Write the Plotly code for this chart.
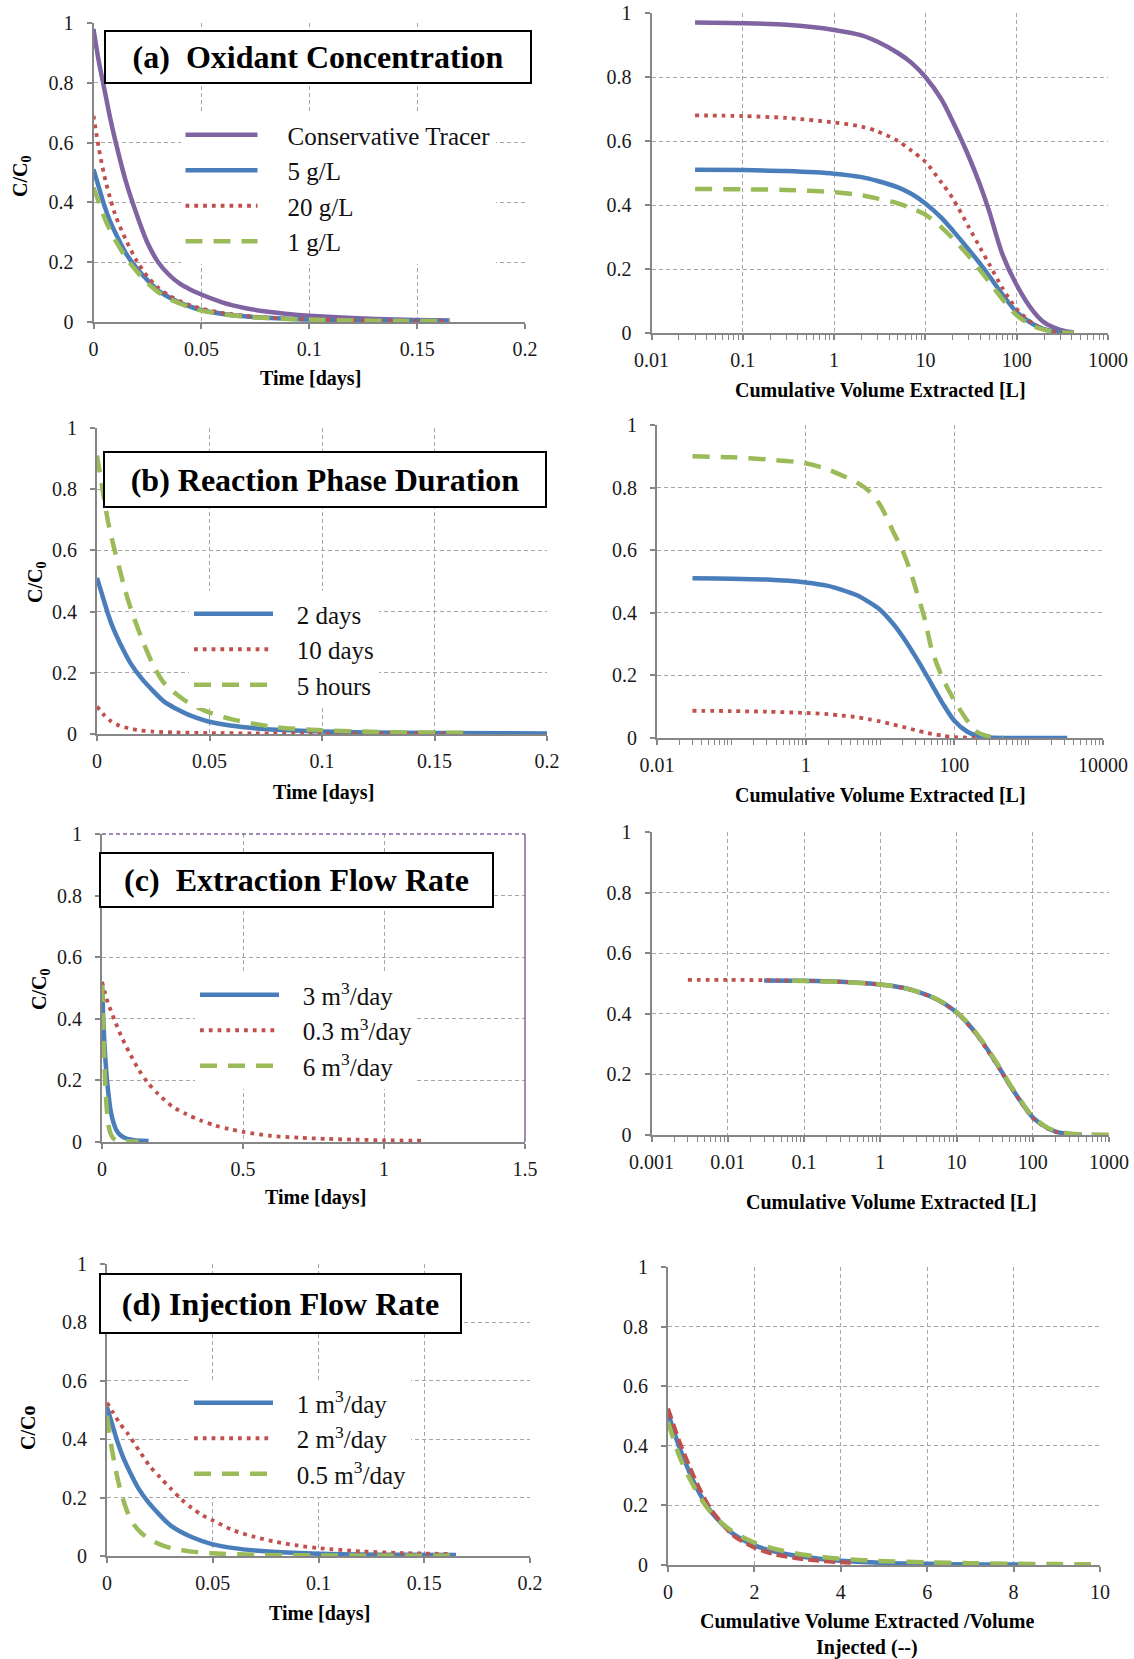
import plotly.graph_objects as go

W, H = 1134, 1659
FONT = "Liberation Serif"
PURPLE = "#8064A2"
BLUE = "#4A7EBB"
RED = "#C0504D"
GREEN = "#9BBB59"
AXIS = "#868686"
GRID = "#A6A6A6"

# ---------------- data ----------------
# (a) Oxidant concentration - time
a_time = [0, 0.0025, 0.005, 0.0075, 0.01, 0.015, 0.02, 0.025, 0.03, 0.035, 0.04, 0.045, 0.05, 0.06, 0.07, 0.08, 0.09, 0.1, 0.12, 0.14, 0.165]
a_tracer = [0.98, 0.87, 0.78, 0.69, 0.61, 0.47, 0.36, 0.265, 0.2, 0.158, 0.128, 0.108, 0.092, 0.065, 0.047, 0.035, 0.027, 0.021, 0.013, 0.008, 0.005]
a_5gL = [0.51, 0.45, 0.39, 0.34, 0.30, 0.23, 0.18, 0.14, 0.105, 0.083, 0.065, 0.051, 0.04, 0.027, 0.019, 0.014, 0.011, 0.008, 0.005, 0.004, 0.003]
a_20gL = [0.69, 0.58, 0.49, 0.42, 0.36, 0.275, 0.205, 0.152, 0.115, 0.089, 0.07, 0.056, 0.045, 0.03, 0.021, 0.015, 0.011, 0.009, 0.006, 0.004, 0.003]
a_1gL = [0.45, 0.40, 0.35, 0.31, 0.275, 0.215, 0.17, 0.13, 0.1, 0.078, 0.062, 0.048, 0.038, 0.026, 0.018, 0.013, 0.01, 0.008, 0.005, 0.004, 0.003]
# (a) volume
a_vol = [0.03, 0.1, 0.3, 1, 2, 3, 5, 7, 10, 15, 20, 30, 40, 50, 70, 100, 150, 200, 300, 420]
a_vol_tracer = [0.97, 0.968, 0.963, 0.947, 0.93, 0.91, 0.875, 0.845, 0.80, 0.73, 0.66, 0.55, 0.46, 0.38, 0.245, 0.15, 0.07, 0.033, 0.01, 0.002]
a_vol_5gL = [0.51, 0.509, 0.506, 0.498, 0.487, 0.475, 0.455, 0.435, 0.405, 0.36, 0.32, 0.26, 0.215, 0.178, 0.12, 0.065, 0.028, 0.012, 0.003, 0.001]
a_vol_20gL = [0.68, 0.678, 0.672, 0.658, 0.645, 0.63, 0.60, 0.57, 0.535, 0.47, 0.42, 0.33, 0.265, 0.215, 0.14, 0.075, 0.03, 0.012, 0.003, 0.001]
a_vol_1gL = [0.45, 0.449, 0.447, 0.44, 0.43, 0.42, 0.405, 0.39, 0.37, 0.33, 0.295, 0.24, 0.195, 0.16, 0.105, 0.055, 0.022, 0.01, 0.002, 0.001]

# (b) Reaction phase duration - time
b_time = [0, 0.0025, 0.005, 0.0075, 0.01, 0.015, 0.02, 0.025, 0.03, 0.035, 0.04, 0.045, 0.05, 0.06, 0.07, 0.08, 0.1, 0.12, 0.15, 0.2]
b_2days = [0.51, 0.45, 0.39, 0.34, 0.30, 0.23, 0.18, 0.14, 0.105, 0.083, 0.065, 0.051, 0.04, 0.027, 0.019, 0.014, 0.008, 0.005, 0.003, 0.002]
b_10days_t = [0, 0.003, 0.006, 0.01, 0.014, 0.018, 0.025, 0.035, 0.05, 0.07, 0.1, 0.13, 0.163]
b_10days = [0.09, 0.063, 0.043, 0.027, 0.019, 0.013, 0.008, 0.005, 0.003, 0.002, 0.001, 0.001, 0.001]
b_5h_t = [0, 0.002, 0.005, 0.0075, 0.01, 0.0125, 0.015, 0.02, 0.025, 0.03, 0.04, 0.05, 0.06, 0.07, 0.08, 0.1, 0.13, 0.163]
b_5h = [0.91, 0.82, 0.69, 0.61, 0.54, 0.47, 0.41, 0.31, 0.225, 0.165, 0.105, 0.07, 0.048, 0.033, 0.022, 0.012, 0.006, 0.004]
# (b) volume
b_vol_2days_x = [0.03, 0.1, 0.3, 1, 2, 3, 5, 7, 10, 15, 20, 30, 40, 50, 70, 100, 150, 200, 300, 1000, 3300]
b_vol_2days = [0.51, 0.509, 0.506, 0.497, 0.486, 0.474, 0.455, 0.435, 0.41, 0.365, 0.325, 0.26, 0.21, 0.17, 0.11, 0.055, 0.02, 0.008, 0.002, 0.0, 0.0]
b_vol_10days_x = [0.03, 0.1, 0.3, 1, 2, 3, 5, 7, 10, 15, 20, 30, 40, 50, 70, 100, 150, 200]
b_vol_10days = [0.087, 0.086, 0.084, 0.08, 0.076, 0.072, 0.066, 0.06, 0.053, 0.043, 0.036, 0.025, 0.018, 0.013, 0.007, 0.003, 0.001, 0.0]
b_vol_5h_x = [0.03, 0.1, 0.3, 1, 2, 3, 5, 7, 10, 15, 20, 25, 30, 40, 50, 70, 100, 150, 200, 300, 450]
b_vol_5h = [0.90, 0.897, 0.89, 0.878, 0.858, 0.84, 0.815, 0.79, 0.745, 0.66, 0.60, 0.54, 0.48, 0.38, 0.28, 0.19, 0.12, 0.055, 0.02, 0.005, 0.002]

# (c) Extraction flow rate - time
c_3_t = [0, 0.0025, 0.005, 0.0075, 0.01, 0.015, 0.02, 0.025, 0.03, 0.04, 0.05, 0.06, 0.07, 0.08, 0.1, 0.12, 0.14, 0.165]
c_3 = [0.51, 0.45, 0.39, 0.34, 0.30, 0.23, 0.18, 0.14, 0.105, 0.065, 0.04, 0.027, 0.019, 0.014, 0.008, 0.005, 0.004, 0.003]
c_03_t = [0, 0.02, 0.045, 0.07, 0.1, 0.13, 0.16, 0.2, 0.25, 0.3, 0.35, 0.4, 0.45, 0.5, 0.6, 0.7, 0.8, 0.9, 1.0, 1.14]
c_03 = [0.52, 0.455, 0.395, 0.34, 0.285, 0.235, 0.195, 0.155, 0.115, 0.09, 0.07, 0.054, 0.042, 0.033, 0.02, 0.014, 0.01, 0.0076, 0.0055, 0.004]
c_6_t = [0, 0.002, 0.004, 0.006, 0.008, 0.01, 0.013, 0.016, 0.02, 0.025, 0.03, 0.04, 0.05, 0.07, 0.1, 0.13]
c_6 = [0.51, 0.44, 0.38, 0.32, 0.27, 0.22, 0.16, 0.12, 0.075, 0.045, 0.028, 0.012, 0.006, 0.003, 0.002, 0.001]
# (c) volume
c_vol_3_x = [0.03, 0.1, 0.3, 1, 2, 3, 5, 7, 10, 15, 20, 30, 40, 50, 70, 100, 150, 200, 300, 440]
c_vol_3 = [0.51, 0.509, 0.506, 0.497, 0.486, 0.474, 0.453, 0.433, 0.405, 0.36, 0.32, 0.255, 0.205, 0.165, 0.11, 0.058, 0.025, 0.011, 0.003, 0.001]
c_vol_03_x = [0.003, 0.01, 0.03, 0.1, 0.3, 1, 2, 3, 5, 7, 10, 15, 20, 30, 40, 50, 70, 100, 150, 200, 340]
c_vol_03 = [0.512, 0.512, 0.511, 0.509, 0.506, 0.496, 0.485, 0.473, 0.452, 0.432, 0.404, 0.358, 0.318, 0.252, 0.203, 0.163, 0.108, 0.056, 0.024, 0.01, 0.002]
c_vol_6_x = [0.07, 0.1, 0.3, 1, 2, 3, 5, 7, 10, 15, 20, 30, 40, 50, 70, 100, 150, 200, 300, 500, 1000]
c_vol_6 = [0.509, 0.508, 0.505, 0.497, 0.486, 0.474, 0.454, 0.434, 0.406, 0.362, 0.322, 0.258, 0.208, 0.168, 0.113, 0.06, 0.027, 0.013, 0.005, 0.002, 0.001]

# (d) Injection flow rate - time
d_1_t = [0, 0.0025, 0.005, 0.0075, 0.01, 0.015, 0.02, 0.025, 0.03, 0.04, 0.05, 0.06, 0.07, 0.08, 0.1, 0.12, 0.14, 0.165]
d_1 = [0.51, 0.45, 0.39, 0.34, 0.30, 0.23, 0.18, 0.14, 0.105, 0.065, 0.04, 0.027, 0.019, 0.014, 0.008, 0.005, 0.004, 0.003]
d_2_t = [0, 0.003, 0.006, 0.01, 0.015, 0.02, 0.025, 0.03, 0.035, 0.04, 0.045, 0.05, 0.06, 0.07, 0.08, 0.09, 0.1, 0.12, 0.14, 0.162]
d_2 = [0.525, 0.49, 0.455, 0.417, 0.363, 0.31, 0.27, 0.232, 0.195, 0.165, 0.14, 0.122, 0.087, 0.065, 0.048, 0.036, 0.027, 0.016, 0.01, 0.007]
d_05_t = [0, 0.002, 0.004, 0.006, 0.008, 0.01, 0.013, 0.016, 0.02, 0.025, 0.03, 0.04, 0.05, 0.07, 0.1, 0.13, 0.165]
d_05 = [0.48, 0.38, 0.3, 0.235, 0.185, 0.145, 0.105, 0.08, 0.058, 0.04, 0.028, 0.015, 0.009, 0.004, 0.002, 0.001, 0.001]
# (d) volume ratio
d_r1_x = [0, 0.25, 0.5, 0.75, 1, 1.25, 1.5, 2, 2.5, 3, 3.5, 4, 5, 6, 7, 8.5]
d_r1 = [0.51, 0.4, 0.31, 0.235, 0.178, 0.138, 0.105, 0.066, 0.044, 0.03, 0.021, 0.014, 0.007, 0.004, 0.002, 0.001]
d_r2_x = [0, 0.25, 0.5, 0.75, 1, 1.25, 1.5, 2, 2.5, 3, 3.5, 4, 4.3]
d_r2 = [0.525, 0.42, 0.33, 0.25, 0.185, 0.14, 0.1, 0.058, 0.035, 0.022, 0.014, 0.009, 0.007]
d_r05_x = [0, 0.25, 0.5, 0.75, 1, 1.25, 1.5, 2, 2.5, 3, 3.5, 4, 5, 6, 7, 8, 9, 10]
d_r05 = [0.48, 0.37, 0.29, 0.225, 0.175, 0.14, 0.112, 0.075, 0.053, 0.038, 0.028, 0.021, 0.013, 0.009, 0.006, 0.004, 0.003, 0.002]

# tick labels
y_ticks = [0, 0.2, 0.4, 0.6, 0.8, 1]
y_ticktext = ["0", "0.2", "0.4", "0.6", "0.8", "1"]
time_ticks = [0, 0.05, 0.1, 0.15, 0.2]
time_ticktext = ["0", "0.05", "0.1", "0.15", "0.2"]
c_time_ticks = [0, 0.5, 1, 1.5]
c_time_ticktext = ["0", "0.5", "1", "1.5"]
a_vol_ticks = [0.01, 0.1, 1, 10, 100, 1000]
a_vol_ticktext = ["0.01", "0.1", "1", "10", "100", "1000"]
b_vol_ticks = [0.01, 1, 100, 10000]
b_vol_ticktext = ["0.01", "1", "100", "10000"]
c_vol_ticks = [0.001, 0.01, 0.1, 1, 10, 100, 1000]
c_vol_ticktext = ["0.001", "0.01", "0.1", "1", "10", "100", "1000"]
d_ratio_ticks = [0, 2, 4, 6, 8, 10]
d_ratio_ticktext = ["0", "2", "4", "6", "8", "10"]

# ---------------- figure ----------------
fig = go.Figure()

SOLID = dict(width=4.5)
DOT = dict(width=3.8, dash="3.8px,5px")
DASH = dict(width=4.5, dash="17px,11px")
NB = "\u00a0"
GAPS = {"legend": NB * 4, "legend2": NB * 3, "legend3": NB * 3, "legend4": NB * 3}


def add(i, x, y, color, style, name, legend=None):
    fig.add_trace(go.Scatter(
        x=x, y=y, xaxis=f"x{i}", yaxis=f"y{i}", mode="lines",
        name=(GAPS[legend] + name) if legend else name,
        line=dict(color=color, shape="spline", smoothing=0.8, **style),
        showlegend=legend is not None, legend=legend or "legend",
        hoverinfo="skip"))


# (a)
add(1, a_time, a_tracer, PURPLE, SOLID, "Conservative Tracer", "legend")
add(1, a_time, a_5gL, BLUE, SOLID, "5 g/L", "legend")
add(1, a_time, a_20gL, RED, DOT, "20 g/L", "legend")
add(1, a_time, a_1gL, GREEN, DASH, "1 g/L", "legend")
add(2, a_vol, a_vol_tracer, PURPLE, SOLID, "Conservative Tracer")
add(2, a_vol, a_vol_5gL, BLUE, SOLID, "5 g/L")
add(2, a_vol, a_vol_20gL, RED, DOT, "20 g/L")
add(2, a_vol, a_vol_1gL, GREEN, DASH, "1 g/L")
# (b)
add(3, b_time, b_2days, BLUE, SOLID, "2 days", "legend2")
add(3, b_10days_t, b_10days, RED, DOT, "10 days", "legend2")
add(3, b_5h_t, b_5h, GREEN, DASH, "5 hours", "legend2")
add(4, b_vol_2days_x, b_vol_2days, BLUE, SOLID, "2 days")
add(4, b_vol_10days_x, b_vol_10days, RED, DOT, "10 days")
add(4, b_vol_5h_x, b_vol_5h, GREEN, DASH, "5 hours")
# (c)
add(5, c_3_t, c_3, BLUE, SOLID, "3 m<sup>3</sup>/day", "legend3")
add(5, c_03_t, c_03, RED, DOT, "0.3 m<sup>3</sup>/day", "legend3")
add(5, c_6_t, c_6, GREEN, DASH, "6 m<sup>3</sup>/day", "legend3")
add(6, c_vol_3_x, c_vol_3, BLUE, SOLID, "3 m3/day")
add(6, c_vol_03_x, c_vol_03, RED, DOT, "0.3 m3/day")
add(6, c_vol_6_x, c_vol_6, GREEN, DASH, "6 m3/day")
# (d)
add(7, d_1_t, d_1, BLUE, SOLID, "1 m<sup>3</sup>/day", "legend4")
add(7, d_2_t, d_2, RED, DOT, "2 m<sup>3</sup>/day", "legend4")
add(7, d_05_t, d_05, GREEN, DASH, "0.5 m<sup>3</sup>/day", "legend4")
add(8, d_r1_x, d_r1, BLUE, SOLID, "1 m3/day")
add(8, d_r2_x, d_r2, RED, dict(width=4, dash="11px,5px"), "2 m3/day")
add(8, d_r05_x, d_r05, GREEN, DASH, "0.5 m3/day")

# panel geometry in pixels: (left, right, top, bottom)
panels = {
    1: (93.5, 525, 23, 322),
    2: (651.5, 1108, 13, 333),
    3: (97, 547, 428, 734),
    4: (657, 1103, 425, 738),
    5: (102, 525, 834, 1142),
    6: (651.5, 1109, 832, 1135),
    7: (107, 530, 1264, 1556),
    8: (668, 1100, 1267, 1565),
}
xspec = {
    1: dict(type="linear", range=[0, 0.2], tickvals=time_ticks, ticktext=time_ticktext),
    2: dict(type="log", range=[-2, 3], tickvals=a_vol_ticks, ticktext=a_vol_ticktext),
    3: dict(type="linear", range=[0, 0.2], tickvals=time_ticks, ticktext=time_ticktext),
    4: dict(type="log", range=[-2, 4], tickvals=b_vol_ticks, ticktext=b_vol_ticktext),
    5: dict(type="linear", range=[0, 1.5], tickvals=c_time_ticks, ticktext=c_time_ticktext),
    6: dict(type="log", range=[-3, 3], tickvals=c_vol_ticks, ticktext=c_vol_ticktext),
    7: dict(type="linear", range=[0, 0.2], tickvals=time_ticks, ticktext=time_ticktext),
    8: dict(type="linear", range=[0, 10], tickvals=d_ratio_ticks, ticktext=d_ratio_ticktext),
}

common = dict(
    showline=True, linecolor=AXIS, linewidth=2, showgrid=True, gridcolor=GRID,
    gridwidth=1, griddash="4px,3px", zeroline=False, ticks="outside", ticklen=5,
    tickcolor=AXIS, tickwidth=1.5, tickmode="array", automargin=False,
    tickfont=dict(family=FONT, size=20, color="#1a1a1a"), fixedrange=True,
)

layout_axes = {}
for i, (l, r, t, b) in panels.items():
    xs = dict(common, domain=[l / W, r / W], anchor=f"y{i}", ticklabelstandoff=3, **xspec[i])
    if xs["type"] == "log":
        xs["minor"] = dict(ticks="outside", ticklen=5, tickcolor=AXIS, tickwidth=1, dtick="D1", showgrid=False)
    layout_axes[f"xaxis{i}"] = xs
    layout_axes[f"yaxis{i}"] = dict(common, domain=[1 - b / H, 1 - t / H], anchor=f"x{i}",
                                    range=[0, 1], tickvals=y_ticks, ticktext=y_ticktext,
                                    ticklabelstandoff=9)

fig.update_layout(**layout_axes)


def leg(x, y, size, iw):
    return dict(x=x / W, y=1 - y / H, xanchor="left", yanchor="top", bgcolor="white",
                borderwidth=0, itemwidth=iw, tracegroupgap=0, itemclick=False,
                font=dict(family=FONT, size=size, color="#111111"))


fig.update_layout(
    width=W, height=H, margin=dict(l=0, r=0, t=0, b=0, autoexpand=False),
    paper_bgcolor="white", plot_bgcolor="white",
    legend=leg(180.5, 112, 25, 72),
    legend2=leg(189, 591, 25, 79),
    legend3=leg(195, 972, 25, 79),
    legend4=leg(189, 1380, 25, 79),
)

annotations = []
# title boxes: (text, cx, cy, w, h)
for txt, cx, cy, w, h in [
    ("(a)  Oxidant Concentration", 317.5, 57, 428, 54),
    ("(b) Reaction Phase Duration", 325, 479.5, 444, 57),
    ("(c)  Extraction Flow Rate", 296, 880, 395, 56),
    ("(d) Injection Flow Rate", 280, 1303.5, 363, 61),
]:
    annotations.append(dict(
        text=f"<b>{txt}</b>", x=cx / W, y=1 - cy / H, xref="paper", yref="paper",
        xanchor="center", yanchor="middle", showarrow=False, width=w - 4, height=h - 4,
        font=dict(family=FONT, size=32, color="black"), bgcolor="white",
        bordercolor="black", borderwidth=2, borderpad=0))

# axis titles
TFONT = dict(family=FONT, size=20, color="black")
for txt, cx, cy in [
    ("Time [days]", 310.5, 378),
    ("Cumulative Volume Extracted [L]", 880.5, 390),
    ("Time [days]", 323, 792),
    ("Cumulative Volume Extracted [L]", 880, 795),
    ("Time [days]", 315, 1197),
    ("Cumulative Volume Extracted [L]", 891.5, 1202),
    ("Time [days]", 319.5, 1613),
    ("Cumulative Volume Extracted /Volume", 866.5, 1621),
    ("Injected (--)", 866.5, 1647),
]:
    annotations.append(dict(text=f"<b>{txt}</b>", x=cx / W, y=1 - cy / H, xref="paper",
                            yref="paper", xanchor="center", yanchor="middle",
                            showarrow=False, font=TFONT))
for txt, cx, cy in [
    ("C/C<sub>0</sub>", 21, 177),
    ("C/C<sub>0</sub>", 36, 583),
    ("C/C<sub>0</sub>", 40, 990),
    ("C/Co", 28, 1428),
]:
    annotations.append(dict(text=f"<b>{txt}</b>", x=cx / W, y=1 - cy / H, xref="paper",
                            yref="paper", xanchor="center", yanchor="middle",
                            showarrow=False, textangle=-90, font=TFONT))

fig.update_layout(annotations=annotations)

# purple frame on panel (c) time plot
fig.add_shape(type="line", xref="x5 domain", yref="y5 domain", x0=1, x1=1, y0=0, y1=1,
              line=dict(color=PURPLE, width=1.5))
fig.add_shape(type="line", xref="x5 domain", yref="y5 domain", x0=0, x1=1, y0=1, y1=1,
              line=dict(color=PURPLE, width=1.5, dash="4px,3px"))

fig.write_html("out.html")
